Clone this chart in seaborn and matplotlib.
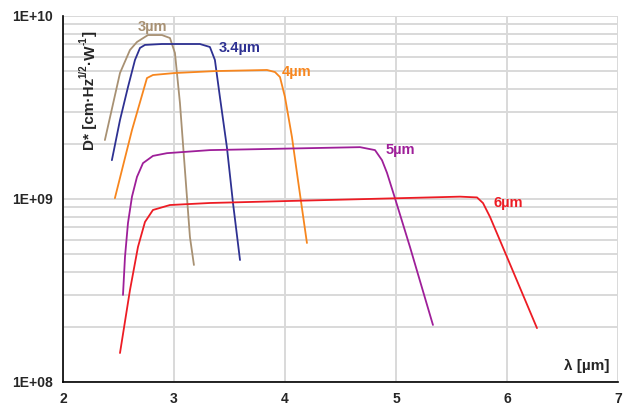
import numpy as np
import pandas as pd
import matplotlib
matplotlib.use("Agg")
import matplotlib.pyplot as plt
import seaborn as sns
from matplotlib.ticker import LogLocator, FixedLocator, NullFormatter
from matplotlib.transforms import offset_copy

# ---- data ----
x_3 = [2.378, 2.514, 2.604, 2.667, 2.766, 2.892, 2.964, 3.009, 3.054, 3.099, 3.144, 3.18]
y_3 = [2.10e9, 4.88e9, 6.52e9, 7.21e9, 7.87e9, 7.87e9, 7.58e9, 6.28e9, 3.35e9, 1.44e9, 6.2e8, 4.36e8]

x_34 = [2.441, 2.514, 2.586, 2.649, 2.694, 2.739, 2.892, 3.234, 3.324, 3.369, 3.414, 3.477, 3.532, 3.595]
y_34 = [1.63e9, 2.70e9, 4.09e9, 5.75e9, 6.69e9, 6.95e9, 7.03e9, 7.03e9, 6.77e9, 5.75e9, 3.61e9, 1.92e9, 9.5e8, 4.64e8]

x_4 = [2.468, 2.622, 2.757, 2.811, 3.009, 3.369, 3.838, 3.91, 3.955, 4.0, 4.063, 4.117, 4.198]
y_4 = [1.01e9, 2.38e9, 4.58e9, 4.76e9, 4.88e9, 5.0e9, 5.07e9, 4.94e9, 4.64e9, 3.61e9, 2.18e9, 1.27e9, 5.75e8]

x_5 = [2.541, 2.559, 2.586, 2.622, 2.667, 2.721, 2.811, 2.937, 3.324, 4.676, 4.811, 4.874, 4.919, 4.991, 5.126, 5.333]
y_5 = [2.99e8, 4.82e8, 7.39e8, 1.03e9, 1.32e9, 1.57e9, 1.72e9, 1.78e9, 1.85e9, 1.92e9, 1.85e9, 1.63e9, 1.39e9, 1.01e9, 5.47e8, 2.05e8]

x_6 = [2.514, 2.604, 2.676, 2.739, 2.811, 2.964, 3.324, 5.577, 5.73, 5.784, 5.847, 6.0, 6.27]
y_6 = [1.44e8, 3.18e8, 5.47e8, 7.49e8, 8.71e8, 9.27e8, 9.51e8, 1.03e9, 1.02e9, 9.5e8, 7.98e8, 4.82e8, 1.97e8]

series_names = ["3µm", "3.4µm", "4µm", "5µm", "6µm"]
series_x = [x_3, x_34, x_4, x_5, x_6]
series_y = [y_3, y_34, y_4, y_5, y_6]
colors = ["#A89173", "#2E3192", "#F7861E", "#9E1F99", "#ED1C24"]

x_ticks = [2, 3, 4, 5, 6, 7]
y_ticks = [1e8, 1e9, 1e10]
y_tick_labels = ["1E+08", "1E+09", "1E+10"]

# label anchor positions (x, y) per series
label_pos = [(2.81, 8.7e9), (3.595, 6.69e9), (4.108, 4.94e9), (5.036, 1.85e9), (6.009, 9.5e8)]

# y-axis title pieces: (text, is_superscript)
ylabel_parts = [("D* [cm·Hz", False), ("1/2", True), ("·W", False), ("-1", True), ("]", False)]

rows = []
for name, xs, ys in zip(series_names, series_x, series_y):
    for i, (xv, yv) in enumerate(zip(xs, ys)):
        rows.append({"series": name, "order": i, "lam": xv, "D": yv})
df = pd.DataFrame(rows)

sns.set_style("white")
plt.rcParams["font.family"] = ["Liberation Sans", "DejaVu Sans"]

fig = plt.figure(figsize=(6.23, 4.05), dpi=100)
ax = fig.add_axes([0.101, 0.0568, 0.891, 0.9037])

sns.lineplot(data=df, x="lam", y="D", hue="series", palette=dict(zip(series_names, colors)),
             sort=False, estimator=None, units="series", linewidth=1.3, legend=False, ax=ax)

ax.set_yscale("log")
ax.set_xlim(2, 7)
ax.set_ylim(1e8, 1e10)

ax.xaxis.set_major_locator(FixedLocator(x_ticks))
ax.set_xticklabels([str(t) for t in x_ticks], fontweight="bold", fontsize=10)
ax.yaxis.set_major_locator(FixedLocator(y_ticks))
ax.set_yticklabels(y_tick_labels, fontweight="bold", fontsize=10)
ax.yaxis.set_minor_locator(LogLocator(base=10, subs=np.arange(2, 10)))
ax.yaxis.set_minor_formatter(NullFormatter())

ax.grid(True, which="both", axis="y", color="#d9d9d9", linewidth=1.4)
ax.grid(True, which="major", axis="x", color="#d9d9d9", linewidth=1.4)
ax.set_axisbelow(True)

for s in ["top", "right"]:
    ax.spines[s].set_visible(False)
for s in ["left", "bottom"]:
    ax.spines[s].set_color("black")
    ax.spines[s].set_linewidth(1.2)

ax.tick_params(axis="both", which="major", direction="out", length=4, width=1.2, color="black", pad=3)
ax.tick_params(axis="y", which="minor", length=0)

ax.set_xlabel("")
ax.set_ylabel("")

for name, (lx, ly), c in zip(series_names, label_pos, colors):
    ax.text(lx, ly, name, color=c, fontsize=10.5, fontweight="bold", ha="center", va="center")

ax.text(0.985, 0.043, "λ [µm]", transform=ax.transAxes, fontsize=11, fontweight="bold",
        ha="right", va="center")

# rotated y title built from pieces (small superscripts)
fig.canvas.draw()
renderer = fig.canvas.get_renderer()
start_px = (94, 405 - 150)  # baseline start in display pixels (x, y from bottom)
cur = 0.0
for txt, sup in ylabel_parts:
    fs = 7 if sup else 11
    dx = -7.5 if sup else 0.0
    t = fig.text(0, 0, txt, fontsize=fs, fontweight="bold", rotation=90,
                 rotation_mode="anchor", ha="left", va="baseline",
                 transform=offset_copy(fig.transFigure, fig=fig, x=start_px[0] + dx,
                                       y=start_px[1] + cur, units="dots"))
    bb = t.get_window_extent(renderer)
    cur += bb.height

fig.savefig("out.png", dpi=100)
